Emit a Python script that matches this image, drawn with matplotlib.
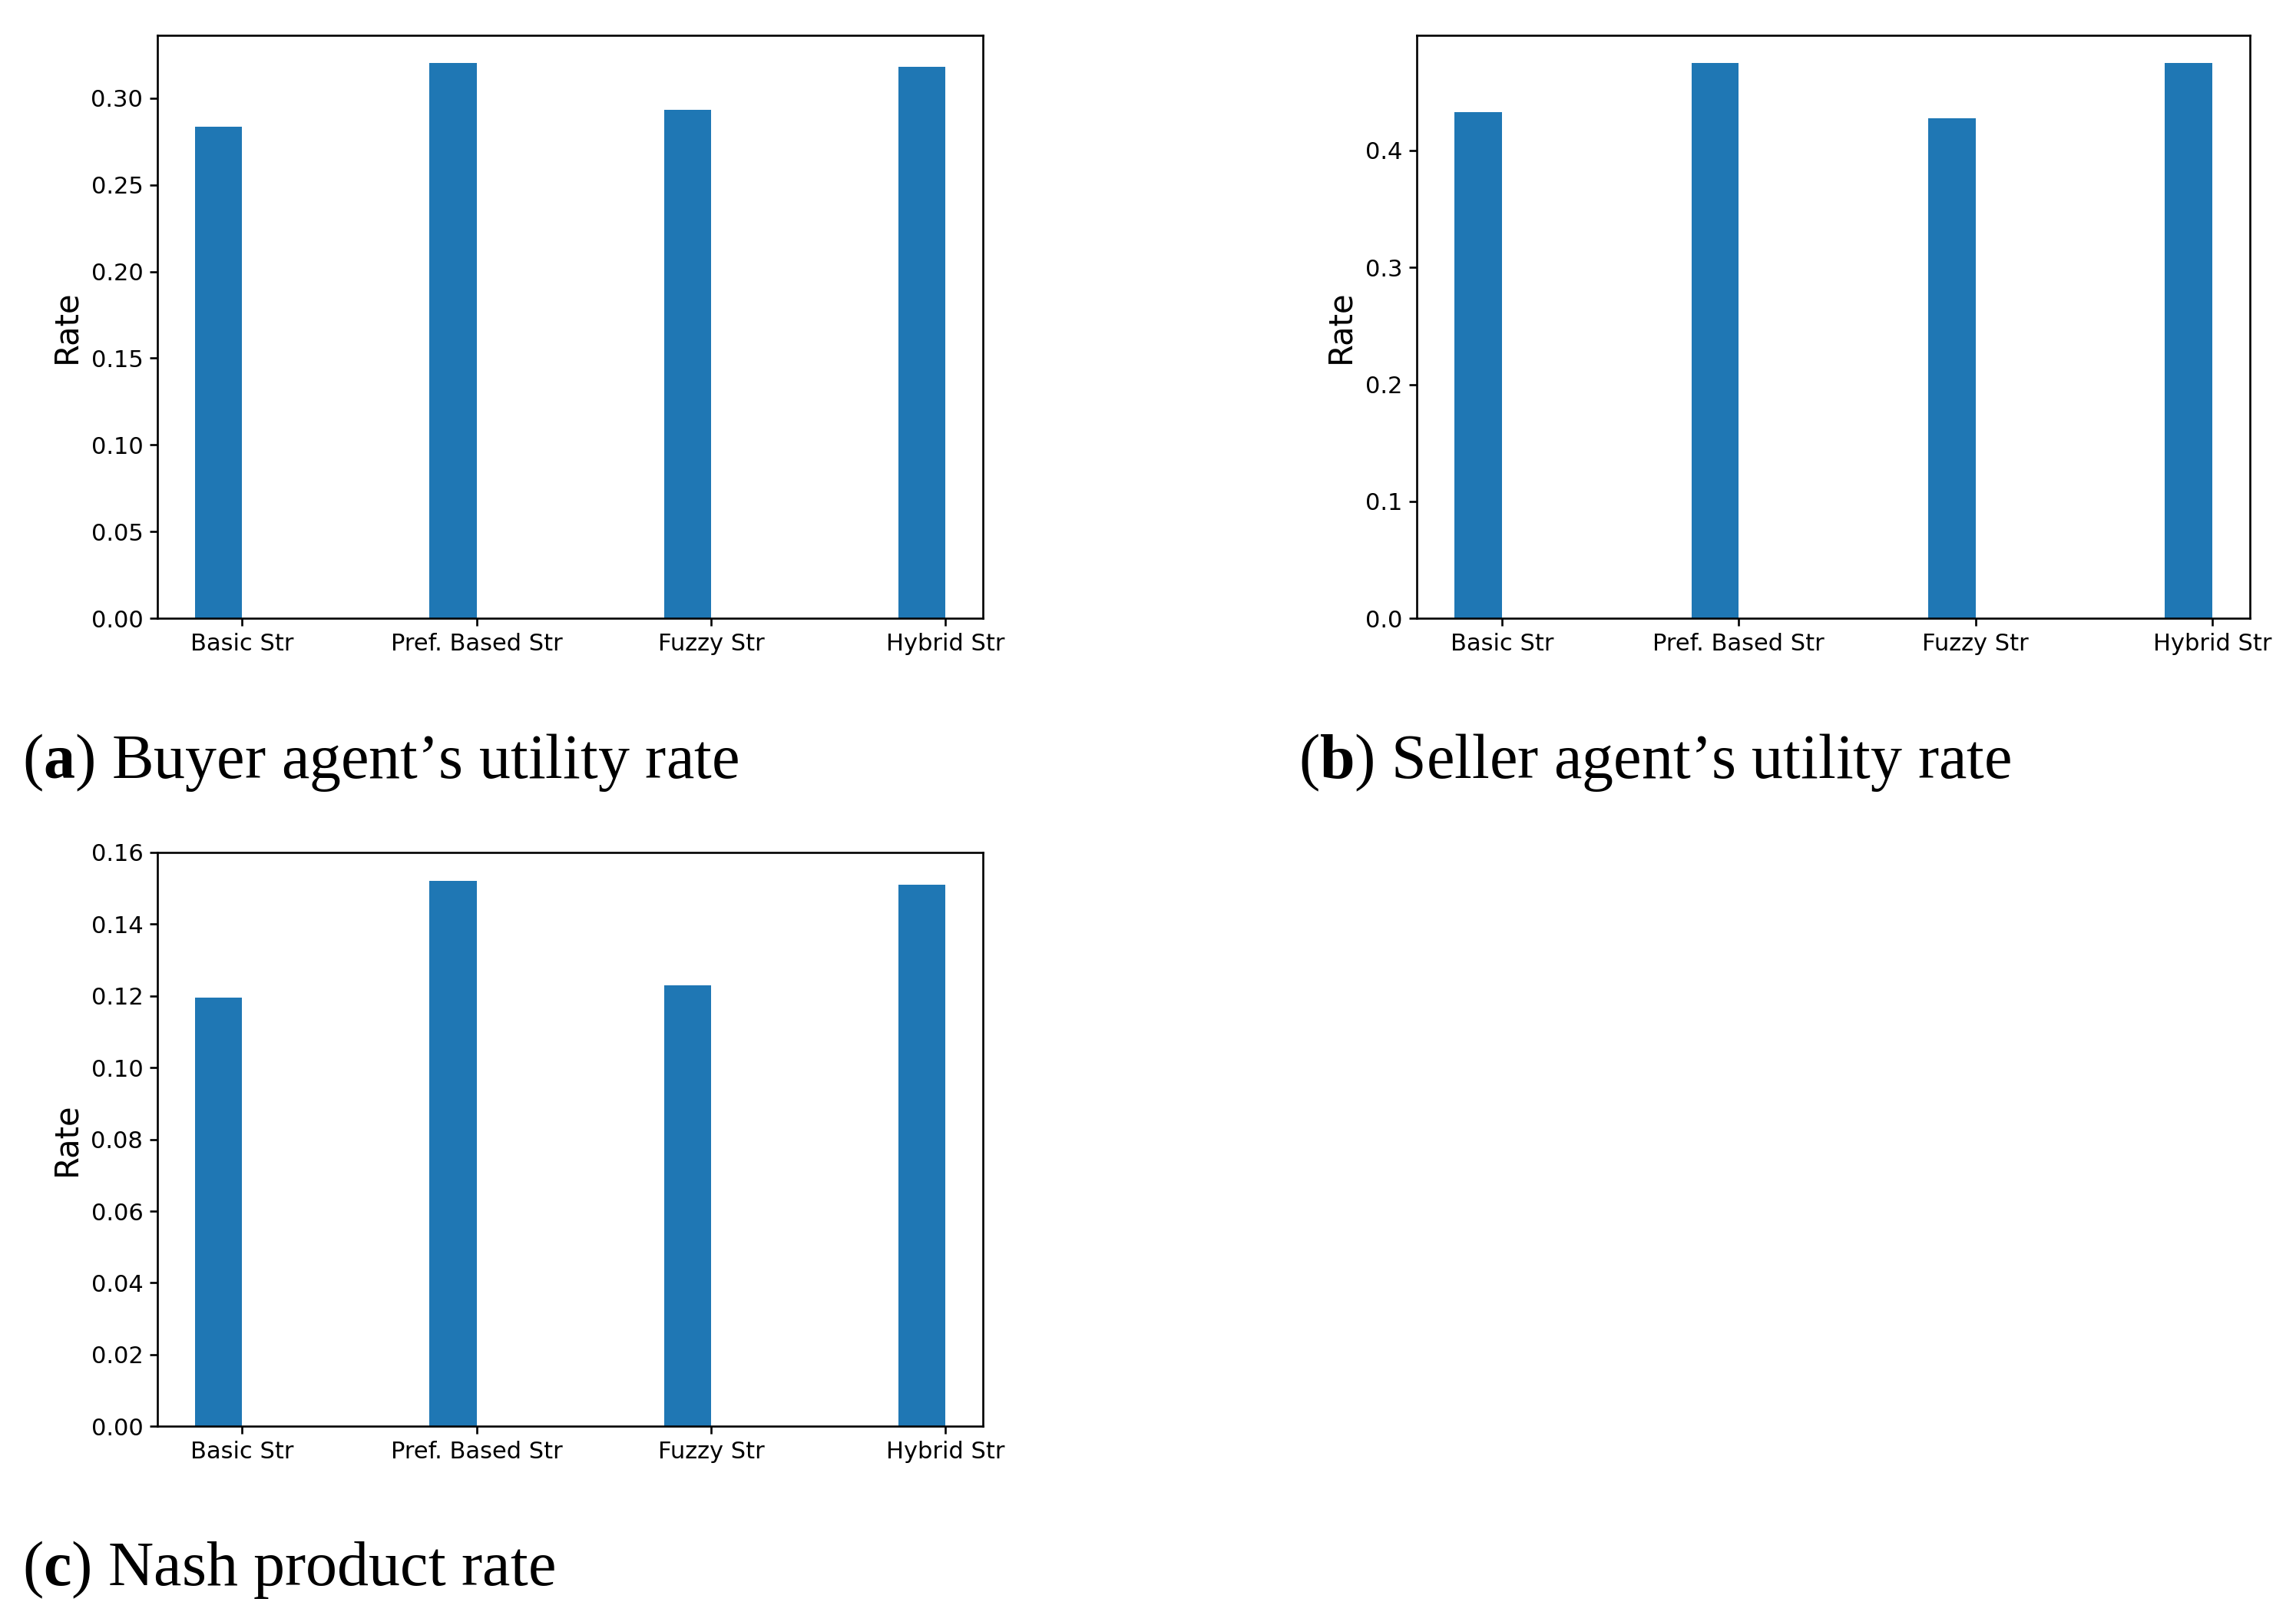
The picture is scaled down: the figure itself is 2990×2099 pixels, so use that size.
"""
Negotiation strategy comparison: buyer / seller utility and Nash product rates.
"""

import numpy as np
import matplotlib
matplotlib.use("Agg")
import matplotlib.pyplot as plt

# strategies on the x axis
strategies = ["Basic Str", "Pref. Based Str", "Fuzzy Str", "Hybrid Str"]

# values
buyer_utility = [0.2836, 0.3202, 0.2931, 0.3179]
seller_utility = [0.4326, 0.4747, 0.4273, 0.4747]
nash_product = [0.1194, 0.1521, 0.1229, 0.1509]

captions = ["Buyer agent\u2019s utility rate",
            "Seller agent\u2019s utility rate",
            "Nash product rate"]
caption_letters = ["a", "b", "c"]

plt.rcParams["mathtext.fontset"] = "custom"
plt.rcParams["mathtext.rm"] = "Liberation Serif"
plt.rcParams["mathtext.bf"] = "Liberation Serif:bold"

TICK_FS = 22
LABEL_FS = 30


def draw_panel(ax, values, ylim=None):
    x = np.arange(len(strategies))
    ax.bar(x - 0.1, values, 0.2, color="#1f77b4")
    ax.set_xticks(x)
    ax.set_xticklabels(strategies, fontsize=TICK_FS)
    ax.tick_params(axis="both", labelsize=TICK_FS, length=7.5, width=1.9, pad=6)
    ax.set_ylabel("Rate", fontsize=LABEL_FS, labelpad=8)
    for s in ax.spines.values():
        s.set_linewidth(1.9)
    if ylim is not None:
        ax.set_ylim(*ylim)


fig = plt.figure(figsize=(29.9, 20.99), dpi=100)

# axes rectangles (left, bottom, width, height) in figure fractions
ax_a = fig.add_axes([0.0686, 0.6164, 0.3596, 0.3617])
ax_b = fig.add_axes([0.6170, 0.6164, 0.3630, 0.3617])
ax_c = fig.add_axes([0.0686, 0.1151, 0.3596, 0.3562])

draw_panel(ax_a, buyer_utility)
draw_panel(ax_b, seller_utility)
draw_panel(ax_c, nash_product, ylim=(0, 0.16))

# subfigure captions
cap_pos = [(0.0096, 0.527), (0.5654, 0.527), (0.0096, 0.026)]
for (cx, cy), letter, cap in zip(cap_pos, caption_letters, captions):
    fig.text(cx, cy, r"($\mathbf{" + letter + r"}$) " + cap,
             fontsize=59, family="Liberation Serif", ha="left", va="center")

fig.savefig("out.png", dpi=100)
